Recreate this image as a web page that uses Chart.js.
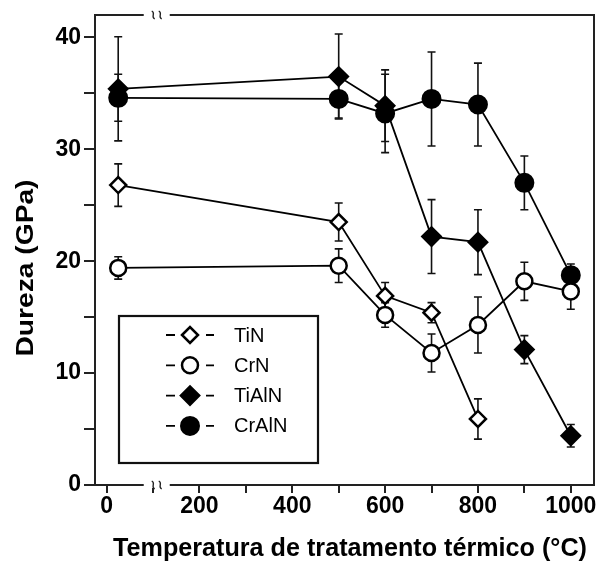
<!DOCTYPE html>
<html>
<head>
<meta charset="utf-8">
<script src="https://cdn.jsdelivr.net/npm/chart.js@4.4.1/dist/chart.umd.min.js"></script>
<style>
  html, body { margin: 0; padding: 0; background: #fff; }
</style>
</head>
<body>
<canvas id="grafico" width="600" height="561"></canvas>
<script>
// dados
const temperaturas = [25, 500, 600, 700, 800, 900, 1000];

const durezaTiN = [26.8, 23.5, 16.9, 15.4, 5.9];
const erroTiN = [1.9, 1.7, 1.2, 0.9, 1.8];

const durezaCrN = [19.4, 19.6, 15.2, 11.8, 14.3, 18.2, 17.3];
const erroCrN = [1.0, 1.5, 1.1, 1.7, 2.5, 1.7, 1.6];

const durezaTiAlN = [35.4, 36.5, 33.9, 22.2, 21.7, 12.1, 4.4];
const erroTiAlN = [4.65, 3.8, 3.2, 3.3, 2.9, 1.25, 1.0];

const durezaCrAlN = [34.6, 34.5, 33.2, 34.5, 34.0, 27.0, 18.75];
const erroCrAlN = [2.1, 1.7, 3.5, 4.2, 3.7, 2.4, 1.0];

const nomes = ['TiN', 'CrN', 'TiAlN', 'CrAlN'];

const tituloX = 'Temperatura de tratamento térmico (°C)';
const tituloY = 'Dureza (GPa)';

// posição da quebra do eixo (em °C)
const quebraEixo = 108;

function pontos(valores) {
  return valores.map((v, i) => ({ x: temperaturas[i], y: v }));
}

// estilo de cada material
const estilos = [
  { forma: 'rectRot', cheio: false, raio: 8, borda: 2.5 },
  { forma: 'circle', cheio: false, raio: 8, borda: 2.5 },
  { forma: 'rectRot', cheio: true, raio: 9.5, borda: 2 },
  { forma: 'circle', cheio: true, raio: 9, borda: 2 }
];

const series = [durezaTiN, durezaCrN, durezaTiAlN, durezaCrAlN];
const erros = [erroTiN, erroCrN, erroTiAlN, erroCrAlN];

const datasets = series.map((s, i) => ({
  label: nomes[i],
  data: pontos(s),
  erros: erros[i],
  borderColor: '#000',
  borderWidth: 1.8,
  pointStyle: estilos[i].forma,
  pointRadius: estilos[i].raio,
  pointBorderWidth: estilos[i].borda,
  pointBorderColor: '#000',
  pointBackgroundColor: estilos[i].cheio ? '#000' : '#fff',
  showLine: true,
  tension: 0,
  fill: false
}));

// barras de erro
const barrasErro = {
  id: 'barrasErro',
  beforeDatasetsDraw(chart) {
    const ctx = chart.ctx;
    const x = chart.scales.x, y = chart.scales.y;
    ctx.save();
    ctx.strokeStyle = '#111';
    ctx.lineWidth = 1.6;
    chart.data.datasets.forEach(ds => {
      ds.data.forEach((p, i) => {
        const e = ds.erros[i];
        const px = x.getPixelForValue(p.x);
        const topo = y.getPixelForValue(p.y + e);
        const base = y.getPixelForValue(p.y - e);
        ctx.beginPath();
        ctx.moveTo(px, topo); ctx.lineTo(px, base);
        ctx.moveTo(px - 4, topo); ctx.lineTo(px + 4, topo);
        ctx.moveTo(px - 4, base); ctx.lineTo(px + 4, base);
        ctx.stroke();
      });
    });
    ctx.restore();
  }
};

function desenhaMarcador(ctx, est, x, y) {
  ctx.beginPath();
  if (est.forma === 'circle') {
    ctx.arc(x, y, est.raio, 0, Math.PI * 2);
  } else {
    ctx.moveTo(x - est.raio, y);
    ctx.lineTo(x, y - est.raio);
    ctx.lineTo(x + est.raio, y);
    ctx.lineTo(x, y + est.raio);
    ctx.closePath();
  }
  ctx.fillStyle = est.cheio ? '#000' : '#fff';
  ctx.fill();
  ctx.lineWidth = est.borda;
  ctx.strokeStyle = '#000';
  ctx.stroke();
}

function squiggle(ctx, x, y) {
  ctx.beginPath();
  ctx.moveTo(x - 1.5, y - 4);
  ctx.bezierCurveTo(x + 3, y - 2, x - 3, y + 2, x + 1.5, y + 4);
  ctx.stroke();
}

// texto esticado até uma largura
function textoLargura(ctx, txt, largura) {
  const w = ctx.measureText(txt).width;
  ctx.scale(largura / w, 1);
  ctx.fillText(txt, 0, 0);
}

// moldura, quebras, legenda e títulos
const extras = {
  id: 'extras',
  afterDraw(chart) {
    const ctx = chart.ctx;
    const a = chart.chartArea;
    const xq = chart.scales.x.getPixelForValue(quebraEixo);
    ctx.save();
    ctx.strokeStyle = '#222';
    ctx.lineWidth = 2;
    ctx.beginPath();
    ctx.moveTo(a.left - 1, a.top);
    ctx.lineTo(a.right, a.top);
    ctx.lineTo(a.right, a.bottom);
    ctx.stroke();

    // quebra do eixo x (em cima e em baixo)
    [a.top, a.bottom].forEach(yy => {
      ctx.fillStyle = '#fff';
      ctx.fillRect(xq - 13, yy - 3, 26, 6);
      ctx.strokeStyle = '#222';
      ctx.lineWidth = 1.3;
      squiggle(ctx, xq - 3.5, yy);
      squiggle(ctx, xq + 3.5, yy);
    });

    // legenda
    ctx.lineWidth = 2.2;
    ctx.strokeStyle = '#111';
    ctx.strokeRect(119, 316, 199, 147);
    ctx.font = '20px "Liberation Sans", Arial, sans-serif';
    ctx.textBaseline = 'middle';
    ctx.textAlign = 'left';
    nomes.forEach((n, i) => {
      const yy = 335 + i * 30.3;
      ctx.strokeStyle = '#000';
      ctx.lineWidth = 1.8;
      ctx.beginPath();
      ctx.moveTo(166, yy); ctx.lineTo(175, yy);
      ctx.moveTo(206, yy); ctx.lineTo(214, yy);
      ctx.stroke();
      desenhaMarcador(ctx, estilos[i], 190, yy);
      ctx.fillStyle = '#000';
      ctx.fillText(n, 234, yy + 1);
    });

    // títulos dos eixos
    ctx.fillStyle = '#000';
    ctx.font = 'bold 25px "Liberation Sans", Arial, sans-serif';
    ctx.textAlign = 'center';
    ctx.textBaseline = 'alphabetic';
    ctx.save();
    ctx.translate(350, 556);
    textoLargura(ctx, tituloX, 474);
    ctx.restore();
    ctx.save();
    ctx.font = 'bold 24px "Liberation Sans", Arial, sans-serif';
    ctx.translate(33, 268);
    ctx.rotate(-Math.PI / 2);
    textoLargura(ctx, tituloY, 177);
    ctx.restore();
    ctx.restore();
  }
};

const fonteTicks = { family: '"Liberation Sans", Arial, sans-serif', size: 23, weight: 'bold' };

new Chart(document.getElementById('grafico'), {
  type: 'line',
  data: { datasets: datasets },
  options: {
    responsive: false,
    animation: false,
    devicePixelRatio: 1,
    layout: { autoPadding: false, padding: { top: 15, right: 6, left: 0, bottom: 0 } },
    plugins: { legend: { display: false }, tooltip: { enabled: false } },
    scales: {
      x: {
        type: 'linear',
        min: -25,
        max: 1050,
        ticks: {
          stepSize: 100,
          includeBounds: false,
          autoSkip: false,
          maxRotation: 0,
          color: '#000',
          font: fonteTicks,
          padding: 0,
          callback: v => (v % 200 === 0 ? v : '')
        },
        grid: { drawOnChartArea: false, drawTicks: true, tickLength: 8, color: '#222', lineWidth: 2 },
        border: { color: '#222', width: 2 },
        afterFit: s => { s.height = 76; s.paddingLeft = 0; s.paddingRight = 0; }
      },
      y: {
        min: 0,
        max: 42,
        ticks: {
          stepSize: 5,
          includeBounds: false,
          autoSkip: false,
          color: '#000',
          font: fonteTicks,
          padding: 3,
          callback: v => (v % 10 === 0 ? v : '')
        },
        grid: { drawOnChartArea: false, drawTicks: true, tickLength: 11, color: '#222', lineWidth: 2 },
        border: { color: '#222', width: 2 },
        afterFit: s => { s.width = 95; s.paddingTop = 0; s.paddingBottom = 0; }
      }
    }
  },
  plugins: [barrasErro, extras]
});
</script>
</body>
</html>
